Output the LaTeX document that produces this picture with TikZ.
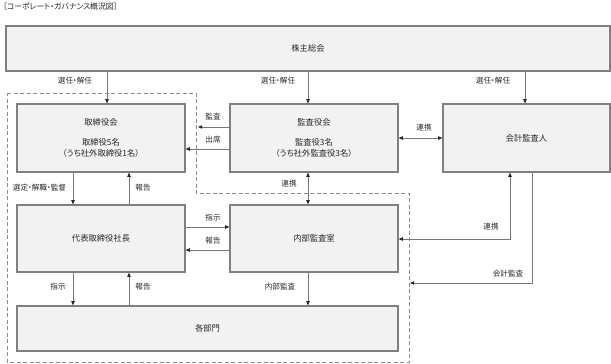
\documentclass[tikz,border=0pt]{standalone}
\usepackage{fontspec}
\setmainfont[RawFeature=+palt]{Noto Sans CJK JP}
\usetikzlibrary{arrows.meta,positioning,calc}

\begin{document}
\begin{tikzpicture}[x=1pt,y=-1pt,>={Triangle[length=4.2pt,width=3.4pt,color=black!85]},
  box/.style={draw=boxgray,fill=boxfill,line width=1.2pt,align=center,inner sep=2pt,font=\fontsize{8.3}{11}\selectfont,text=black!85},
  flow/.style={->,line width=.8pt,draw=linegray},
  both/.style={<->,line width=.8pt,draw=linegray},
  frame/.style={line width=.9pt,draw=framegray,dash pattern=on 4pt off 2.5pt},
  lbl/.style={font=\fontsize{7.6}{8}\selectfont,text=black!85,inner sep=1pt}]
\definecolor{boxgray}{RGB}{128,128,128}
\definecolor{boxfill}{RGB}{242,242,242}
\definecolor{linegray}{RGB}{118,118,118}
\definecolor{framegray}{RGB}{140,140,140}
\useasboundingbox (0,0) rectangle (611,364);
\node[lbl,anchor=west,font=\fontsize{7.8}{9}\selectfont] (ttl) at (2,7) {［コーポレート・ガバナンス概況図］};
% boxes
\node[box,minimum width=604,minimum height=45] (sh) at (308,48.5) {株主総会};
\node[box,minimum width=168,minimum height=68] (bd) at (101,138) {取締役会\\[9pt]取締役5名\\（うち社外取締役1名）};
\node[box,minimum width=168,minimum height=68] (ak) at (314,138) {監査役会\\[9pt]監査役3名\\（うち社外監査役3名）};
\node[box,minimum width=167,minimum height=68] (ca) at (526.5,138) {会計監査人};
\node[box,minimum width=168,minimum height=67] (ceo) at (101,238.5) {代表取締役社長};
\node[box,minimum width=168,minimum height=67] (ia) at (314,238.5) {内部監査室};
\node[box,minimum width=381,minimum height=45] (dp) at (207.5,328.5) {各部門};
% dashed frame of the executive side
\coordinate (f1) at (196,93); \coordinate (f2) at (409,193);
\draw[frame] (7,93) -- (f1) -- (196,193) -- (f2) -- (409,362) -- (7,362) -- cycle;
\coordinate (kaEnd) at (410,283);
% shareholders
\draw[flow] (sh.south -| 107,0) -- (bd.north -| 107,0);
\draw[flow] (sh.south -| 308,0) -- (ak.north -| 308,0);
\draw[flow] (sh.south -| 525,0) -- (ca.north -| 525,0);
\node[lbl] at (75,81) {選任・解任};
\node[lbl] at (278,81) {選任・解任};
\node[lbl] at (493,81) {選任・解任};
% auditors
\draw[flow] (ak.west |- 0,127) -- ($(f1 |- 0,127)+(2,0)$);
\draw[flow] (ak.west |- 0,149) -- (bd.east |- 0,149);
\node[lbl] at (213,117) {監査};
\node[lbl] at (213,140) {出席};
\draw[both] (ak.east) -- (ca.west);
\node[lbl] at (424,128) {連携};
\draw[both] (ak.south -| 308,0) -- (ia.north -| 308,0);
\node[lbl] at (289,184) {連携};
\draw[both] (ia.east |- 0,239) -| (ca.south -| 510,0);
\node[lbl] at (491,227) {連携};
\draw[flow] (ca.south -| 532,0) |- (kaEnd);
\node[lbl] at (508,274) {会計監査};
% board and executives
\draw[flow] (bd.south -| 73,0) -- (ceo.north -| 73,0);
\draw[flow] (ceo.north -| 129,0) -- (bd.south -| 129,0);
\node[lbl] at (39.5,188) {選定・解職・監督};
\node[lbl] at (143,188) {報告};
\draw[flow] (ceo.east |- 0,227) -- (ia.west |- 0,227);
\draw[flow] (ia.west |- 0,250) -- (ceo.east |- 0,250);
\node[lbl] at (213,218) {指示};
\node[lbl] at (213,241) {報告};
\draw[flow] (ceo.south -| 73,0) -- (dp.north -| 73,0);
\draw[flow] (dp.north -| 129,0) -- (ceo.south -| 129,0);
\draw[flow] (ia.south -| 308,0) -- (dp.north -| 308,0);
\node[lbl] at (58,287) {指示};
\node[lbl] at (143,287) {報告};
\node[lbl] at (280,287) {内部監査};
\end{tikzpicture}
\end{document}
